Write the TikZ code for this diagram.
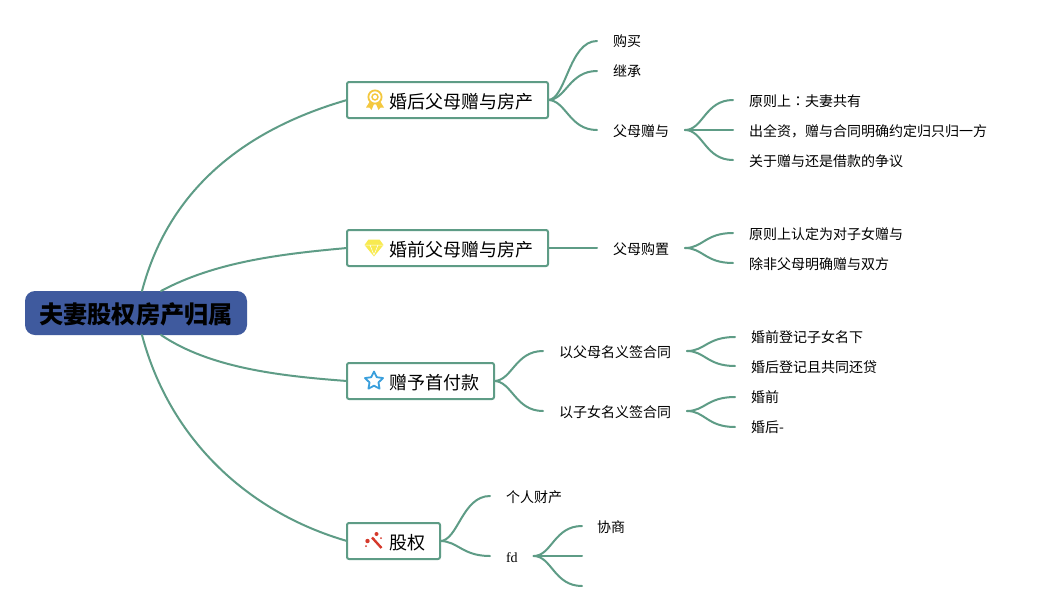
\documentclass[tikz,border=0pt]{standalone}
\usepackage{fontspec}
\setmainfont{Noto Sans CJK SC}
\newfontfamily\latinserif{Liberation Serif}
\newfontfamily\tcfont{Noto Sans CJK TC}
\definecolor{edgegreen}{HTML}{5E9C86}
\definecolor{rootblue}{HTML}{3F5A9E}
\definecolor{medal}{HTML}{F4C83F}
\definecolor{gem}{HTML}{F8EA50}
\definecolor{staricon}{HTML}{3A9FDC}
\definecolor{wand}{HTML}{D5392B}
\tikzset{
  rootbox/.style={fill=rootblue,rounded corners=10pt,minimum width=222pt,minimum height=44pt,inner sep=0pt,outer sep=0pt,text height=23pt,text depth=3pt,font=\fontsize{24.2}{28}\selectfont\bfseries,text=black},
  topicbox/.style={draw=edgegreen,line width=2pt,fill=white,rounded corners=2pt,anchor=west,minimum height=36pt,inner xsep=15pt,inner ysep=0pt,outer sep=0pt,text height=17.5pt,text depth=1.5pt,font=\fontsize{18}{22}\selectfont},
  leaf/.style={anchor=west,inner xsep=16pt,inner ysep=2pt,outer sep=0pt,text height=14pt,text depth=1pt,font=\fontsize{14}{17}\selectfont},
  leafup/.style={leaf,text height=12pt},
  edge/.style={draw=edgegreen,line width=2pt,line cap=round},
}
\newcommand{\sbranch}[2]{\draw[edge] (#1) .. controls +(18pt,0pt) and ($(#2)+(-28pt,0pt)$) .. (#2);}
\usetikzlibrary{calc}
\begin{document}
\begin{tikzpicture}[x=1pt,y=-1pt]
\useasboundingbox (0,0) rectangle (1047,611);
\fill[white] (0,0) rectangle (1047,611);
\node[rootbox] (root) at (136,313) {夫妻股权房产归属};
\node[topicbox] (t1) at (347,100) {\hspace*{27pt}婚后父母赠与房产};
\node[topicbox] (t2) at (347,248) {\hspace*{27pt}婚前父母赠与房产};
\node[topicbox] (t3) at (347,381) {\hspace*{27pt}赠予首付款};
\node[topicbox] (t4) at (347,541) {\hspace*{27pt}股权};
\coordinate (r1) at ($(root.north)+(6,0)$);
\coordinate (r2) at ($(root.north)+(25,0)$);
\coordinate (r3) at ($(root.south)+(25,0)$);
\coordinate (r4) at ($(root.south)+(6,0)$);
\draw[edge] (r1) .. controls (170,185) and (250,128) .. (t1.west);
\draw[edge] (r2) .. controls (215,262) and (280,254) .. (t2.west);
\draw[edge] (r3) .. controls (210,368) and (280,376) .. (t3.west);
\draw[edge] (r4) .. controls (170,441) and (250,513) .. (t4.west);
\node[leafup] (a1) at (597,41) {购买};
\node[leafup] (a2) at (597,71) {继承};
\node[leaf] (a3) at (597,130) {父母赠与};
\node[leaf] (a31) at (733,100) {原则上{\tcfont ：}夫妻共有};
\node[leaf] (a32) at (733,130) {出全资，赠与合同明确约定归只归一方};
\node[leaf] (a33) at (733,160) {关于赠与还是借款的争议};
\node[leaf] (b1) at (597,248) {父母购置};
\node[leaf] (b11) at (733,233) {原则上认定为对子女赠与};
\node[leaf] (b12) at (733,263) {除非父母明确赠与双方};
\node[leaf] (c1) at (543,351) {以父母名义签合同};
\node[leaf] (c2) at (543,411) {以子女名义签合同};
\node[leafup] (c11) at (735,337) {婚前登记子女名下};
\node[leaf] (c12) at (735,366) {婚后登记且共同还贷};
\node[leafup] (c21) at (735,397) {婚前};
\node[leafup] (c22) at (735,427) {婚后-};
\node[leaf] (d1) at (490,496) {个人财产};
\node[leaf] (d2) at (490,556) {\latinserif fd};
\node[leaf,inner xsep=15pt] (d21) at (582,526) {协商};
\coordinate (d22) at (582,556);
\coordinate (d23) at (582,586);
\sbranch{t1.east}{a1.west}
\sbranch{t1.east}{a2.west}
\sbranch{t1.east}{a3.west}
\sbranch{a3.east}{a31.west}
\sbranch{a3.east}{a33.west}
\draw[edge] (a3.east) -- (a32.west);
\draw[edge] (t2.east) -- (b1.west);
\sbranch{b1.east}{b11.west}
\sbranch{b1.east}{b12.west}
\sbranch{t3.east}{c1.west}
\sbranch{t3.east}{c2.west}
\sbranch{c1.east}{c11.west}
\sbranch{c1.east}{c12.west}
\sbranch{c2.east}{c21.west}
\sbranch{c2.east}{c22.west}
\sbranch{t4.east}{d1.west}
\sbranch{t4.east}{d2.west}
\sbranch{d2.east}{d21.west}
\draw[edge] (d2.east) -- (d22);
\sbranch{d2.east}{d23}
\begin{scope}[shift={(375,100)}]
  \draw[medal,line width=1.8pt] (0,-3) circle (6.6);
  \draw[medal,line width=1.4pt] (0,-3) circle (3);
  \fill[medal] (-5.5,2) -- (-9,7.5) -- (-5.5,7.5) -- (-3.5,10) -- (-1,4) -- cycle;
  \fill[medal] (5.5,2) -- (9,7.5) -- (5.5,7.5) -- (3.5,10) -- (1,4) -- cycle;
\end{scope}
\begin{scope}[shift={(374,248)}]
  \fill[gem] (-5.5,-8.5) -- (5.5,-8.5) -- (9.5,-3) -- (0,8.5) -- (-9.5,-3) -- cycle;
  \draw[white,line width=.5pt] (-9.5,-3) -- (9.5,-3) (-4,-3) -- (0,7) -- (4,-3);
\end{scope}
\begin{scope}[shift={(374,381)}]
  \draw[staricon,line width=1.8pt,line join=round] (-90:9.5) -- (-54:4.7) -- (-18:9.5) -- (18:4.7) -- (54:9.5) -- (90:4.7) -- (126:9.5) -- (162:4.7) -- (198:9.5) -- (234:4.7) -- cycle;
\end{scope}
\begin{scope}[shift={(375,541)}]
  \draw[wand,line width=2.4pt] (-3,-3.5) -- (6.5,7);
  \fill[wand] (-7.5,0) circle (2.2) (1.5,-7) circle (2) (-1,-2) circle (.8) (6,-3) circle (1) (-9,5) circle (1);
\end{scope}
\end{tikzpicture}
\end{document}
